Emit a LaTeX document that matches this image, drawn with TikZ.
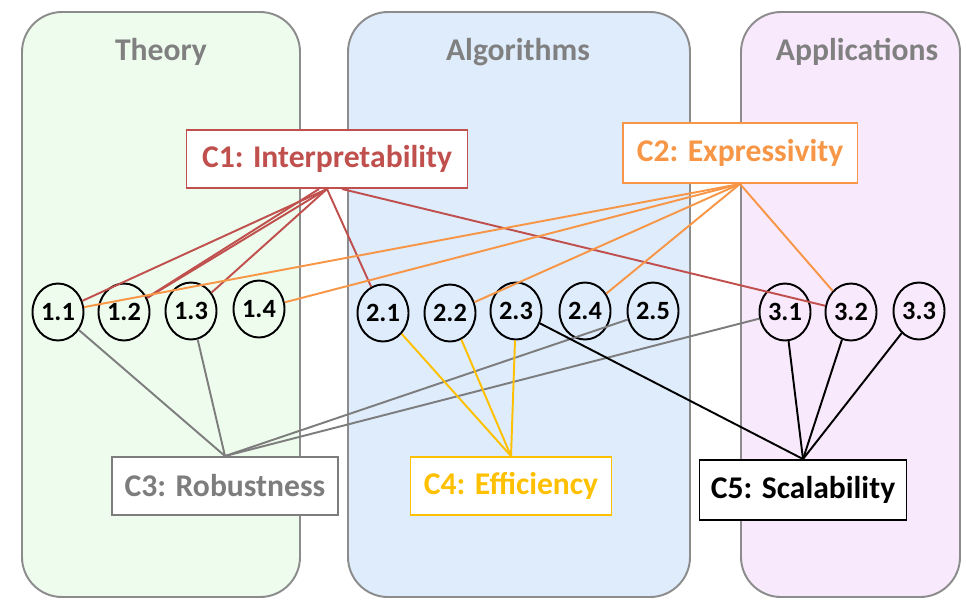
\documentclass[tikz,border=0pt]{standalone}
\usepackage{fontspec}
\setmainfont{Carlito}
\usepackage{tikz}
\usetikzlibrary{shapes.geometric}
\usepackage{xcolor}

\definecolor{thgreen}{RGB}{238,252,238}
\definecolor{alblue}{RGB}{222,236,252}
\definecolor{appink}{RGB}{249,233,252}
\definecolor{panelgray}{RGB}{140,140,140}
\definecolor{cred}{RGB}{192,80,77}
\definecolor{corange}{RGB}{247,150,70}
\definecolor{cgray}{RGB}{125,125,125}
\definecolor{cgold}{RGB}{255,192,0}

\tikzset{
    panel/.style={draw=panelgray, line width=1.1pt, rounded corners=0.8cm},
    paneltitle/.style={text=gray, font=\bfseries\fontsize{18}{20}\selectfont},
    sub/.style={draw=black, ellipse, line width=1.1pt, minimum width=1.02cm, minimum height=1.14cm, inner sep=0pt, font=\bfseries\fontsize{15}{16}\selectfont},
    crit/.style={draw, fill=white, line width=1.1pt, minimum height=1.16cm, inner sep=0pt, font=\bfseries\fontsize{18}{20}\selectfont},
    link/.style={line width=1.1pt}
}

\begin{document}
\begin{tikzpicture}[x=0.02cm, y=-0.02cm]
            \useasboundingbox (0,0) rectangle (966,600);

            \draw[panel, fill=thgreen] (22,12) rectangle (300,597);
            \draw[panel, fill=alblue] (348,12) rectangle (690,597);
            \draw[panel, fill=appink] (741,12) rectangle (960,597);

            \node[paneltitle] (theory) at (161,52) {Theory};
            \node[paneltitle] (algos) at (518,52) {Algorithms};
            \node[paneltitle] (apps) at (857,52) {Applications};

            \node[sub] (n11) at (58,312) {1.1};
            \node[sub] (n12) at (124,312) {1.2};
            \node[sub] (n13) at (191,311) {1.3};
            \node[sub] (n14) at (259,309) {1.4};

            \node[sub] (n21) at (383,313) {2.1};
            \node[sub] (n22) at (450,313) {2.2};
            \node[sub] (n23) at (516,311) {2.3};
            \node[sub] (n24) at (585,311) {2.4};
            \node[sub] (n25) at (653,311) {2.5};

            \node[sub] (n31) at (785,312) {3.1};
            \node[sub] (n32) at (851,312) {3.2};
            \node[sub] (n33) at (919,311) {3.3};

            \node[crit, draw=cred, text=cred, minimum width=5.62cm] (c1) at (327,159) {C1: Interpretability};
            \node[crit, draw=corange, text=corange, minimum width=4.7cm, minimum height=1.2cm] (c2) at (740,153) {C2: Expressivity};
            \node[crit, draw=cgray, text=cgray, minimum width=4.52cm] (c3) at (225,486) {C3: Robustness};
            \node[crit, draw=cgold, text=cgold, minimum width=4.02cm] (c4) at (511,486) {C4: Efficiency};
            \node[crit, draw=black, text=black, minimum width=4.14cm, minimum height=1.2cm] (c5) at (803,490) {C5: Scalability};

            \draw[link, cred] (c1.south) -- (n11);
            \draw[link, cred] (c1.south) -- (n12);
            \draw[link, cred] ([xshift=-0.16cm]c1.south) -- (n12);
            \draw[link, cred] (c1.south) -- (n13);
            \draw[link, cred] (c1.south) -- (n21);
            \draw[link, cred] ([xshift=0.3cm]c1.south) -- (n32);

            \draw[link, corange] (c2.south) -- (n11);
            \draw[link, corange] (c2.south) -- (n14);
            \draw[link, corange] (c2.south) -- (n22);
            \draw[link, corange] (c2.south) -- (n24);
            \draw[link, corange] (c2.south) -- (n32);

            \draw[link, cgray] (c3.north) -- (n11);
            \draw[link, cgray] (c3.north) -- (n13);
            \draw[link, cgray] (c3.north) -- (n25);
            \draw[link, cgray] (c3.north) -- (n31);

            \draw[link, cgold] (c4.north) -- (n21);
            \draw[link, cgold] (c4.north) -- (n22);
            \draw[link, cgold] (c4.north) -- (n23);

            \draw[link, black] (c5.north) -- (n23);
            \draw[link, black] (c5.north) -- (n31);
            \draw[link, black] (c5.north) -- (n32);
            \draw[link, black] (c5.north) -- (n33);
        \end{tikzpicture}
\end{document}
